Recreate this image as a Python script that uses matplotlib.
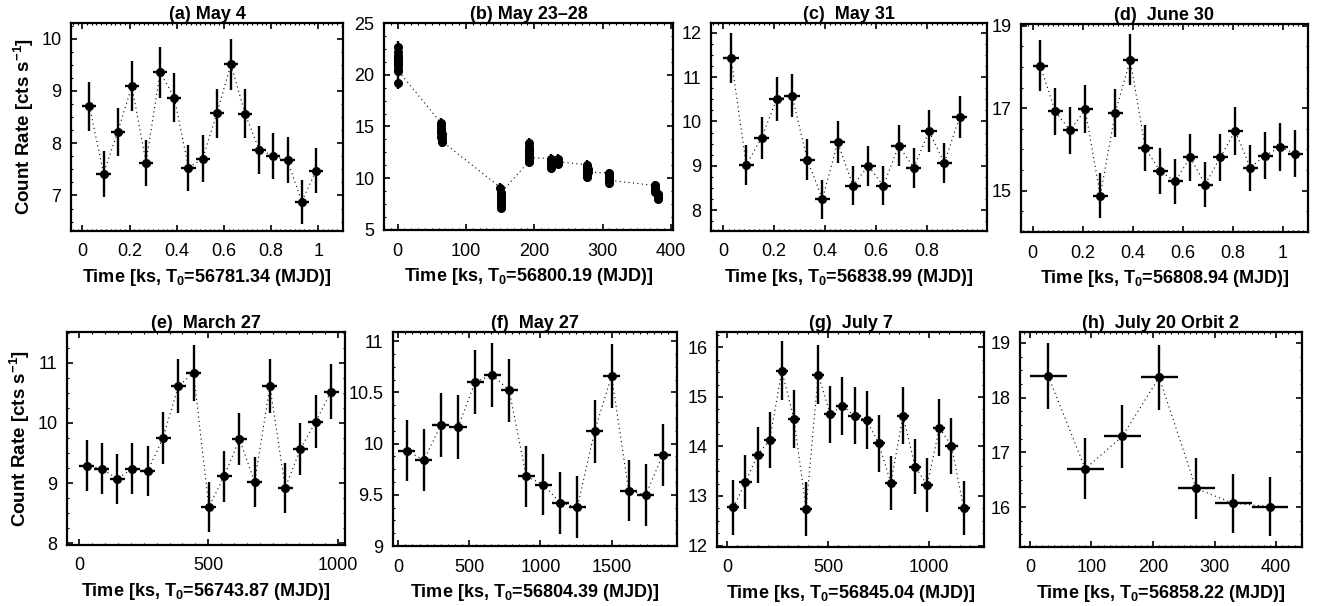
import numpy as np
import matplotlib
matplotlib.use('Agg')
import matplotlib.pyplot as plt
from matplotlib.ticker import FuncFormatter, AutoMinorLocator

plt.rcParams['font.family'] = ['Liberation Sans', 'DejaVu Sans']
plt.rcParams['mathtext.default'] = 'regular'

# ---------------- data (time in ks, count rate in cts/s) ----------------
# (a) May 4
a_t = [0.03, 0.09, 0.15, 0.21, 0.27, 0.33, 0.39, 0.45, 0.51, 0.57, 0.63, 0.69, 0.75, 0.81, 0.87, 0.93, 0.99]
a_r = [8.71, 7.42, 8.22, 9.09, 7.63, 9.36, 8.87, 7.53, 7.70, 8.57, 9.51, 8.56, 7.87, 7.76, 7.67, 6.88, 7.47]
a_e = [0.47, 0.44, 0.46, 0.48, 0.44, 0.49, 0.47, 0.44, 0.45, 0.47, 0.49, 0.47, 0.45, 0.44, 0.44, 0.42, 0.43]

# (b) May 23-28, one list per orbit
b_t = [[0.0, 0.06, 0.12, 0.18, 0.24, 0.30, 0.36, 0.42, 0.48, 0.54, 0.60, 0.66],
       [63.8, 63.86, 63.92, 63.98, 64.04, 64.10, 64.16, 64.22, 64.28, 64.34, 64.40, 64.46],
       [150.5, 150.56, 150.62, 150.68, 150.74, 150.80, 150.86, 150.92, 150.98, 151.04, 151.10, 151.16],
       [191.8, 191.86, 191.92, 191.98, 192.04, 192.10, 192.16, 192.22, 192.28, 192.34, 192.40, 192.46],
       [224.5, 224.56, 224.62, 224.68, 224.74, 224.80, 234.5, 234.56, 234.62, 234.68, 234.74, 234.80],
       [277.3, 277.36, 277.42, 277.48, 277.54, 277.60, 277.66, 277.72, 277.78, 277.84, 277.90, 277.96],
       [309.0, 309.06, 309.12, 309.18, 309.24, 309.30, 309.36, 309.42, 309.48, 309.54, 309.60, 309.66],
       [376.5, 376.56, 376.62, 376.68, 376.74, 376.80, 380.5, 380.56, 380.62, 380.68, 380.74, 380.80]]
b_r = [[22.7, 21.8, 22.2, 21.5, 21.0, 21.7, 20.8, 21.3, 20.5, 19.2, 20.9, 20.4],
       [15.3, 14.9, 14.6, 15.1, 14.4, 14.0, 14.7, 14.2, 13.8, 13.5, 14.3, 13.6],
       [9.1, 8.6, 8.2, 7.8, 7.4, 7.1, 7.6, 8.0, 7.3, 7.7, 8.4, 8.6],
       [11.6, 12.1, 12.6, 13.4, 13.0, 12.4, 12.8, 11.9, 12.2, 11.8, 12.5, 12.0],
       [11.9, 11.5, 11.2, 11.0, 11.4, 11.7, 11.6, 11.8, 11.5, 11.9, 11.4, 11.6],
       [11.3, 10.9, 10.6, 11.1, 10.4, 10.8, 10.2, 10.7, 10.5, 10.1, 10.9, 10.6],
       [10.5, 10.2, 9.9, 10.4, 9.7, 10.0, 9.5, 9.8, 10.1, 9.6, 9.9, 9.8],
       [9.3, 9.0, 8.8, 9.1, 8.7, 8.9, 8.5, 8.2, 8.0, 8.4, 8.1, 8.3]]
b_e = [0.6, 0.5, 0.4, 0.45, 0.45, 0.42, 0.42, 0.4]

# (c) May 31
c_t = [0.03, 0.09, 0.15, 0.21, 0.27, 0.33, 0.39, 0.45, 0.51, 0.57, 0.63, 0.69, 0.75, 0.81, 0.87, 0.93]
c_r = [11.43, 9.02, 9.63, 10.51, 10.58, 9.14, 8.25, 9.53, 8.55, 9.00, 8.55, 9.45, 8.96, 9.78, 9.06, 10.10]
c_e = [0.56, 0.46, 0.47, 0.49, 0.49, 0.46, 0.44, 0.47, 0.44, 0.45, 0.44, 0.46, 0.45, 0.47, 0.45, 0.48]

# (d) June 30
d_t = [0.03, 0.09, 0.15, 0.21, 0.27, 0.33, 0.39, 0.45, 0.51, 0.57, 0.63, 0.69, 0.75, 0.81, 0.87, 0.93, 0.99, 1.05]
d_r = [18.03, 16.92, 16.46, 16.97, 14.88, 16.89, 18.17, 16.03, 15.47, 15.23, 15.81, 15.15, 15.81, 16.45, 15.56, 15.85, 16.06, 15.90]
d_e = [0.62, 0.58, 0.58, 0.58, 0.55, 0.58, 0.62, 0.56, 0.56, 0.55, 0.57, 0.55, 0.57, 0.58, 0.56, 0.57, 0.57, 0.57]

# (e) March 27
e_t = [30, 89, 148, 207, 266, 325, 384, 443, 502, 561, 620, 679, 738, 797, 856, 915, 974]
e_r = [9.29, 9.24, 9.07, 9.24, 9.20, 9.75, 10.61, 10.83, 8.60, 9.11, 9.73, 9.02, 10.61, 8.92, 9.57, 10.02, 10.52]
e_e = [0.42, 0.42, 0.42, 0.42, 0.42, 0.43, 0.45, 0.46, 0.41, 0.42, 0.43, 0.42, 0.45, 0.41, 0.43, 0.44, 0.45]

# (f) May 27
f_t = [60, 180, 300, 420, 540, 660, 780, 900, 1020, 1140, 1260, 1380, 1500, 1620, 1740, 1860]
f_r = [9.93, 9.84, 10.18, 10.16, 10.60, 10.67, 10.52, 9.68, 9.60, 9.42, 9.38, 10.12, 10.66, 9.54, 9.50, 9.89]
f_e = [0.30, 0.30, 0.31, 0.31, 0.31, 0.31, 0.31, 0.30, 0.30, 0.30, 0.30, 0.31, 0.31, 0.30, 0.30, 0.30]

# (g) July 7
g_t = [30, 90, 150, 210, 270, 330, 390, 450, 510, 570, 630, 690, 750, 810, 870, 930, 990, 1050, 1110, 1170]
g_r = [12.77, 13.28, 13.83, 14.13, 15.53, 14.55, 12.74, 15.45, 14.65, 14.82, 14.62, 14.53, 14.06, 13.26, 14.62, 13.59, 13.22, 14.38, 14.01, 12.76]
g_e = [0.56, 0.55, 0.56, 0.57, 0.60, 0.58, 0.55, 0.59, 0.58, 0.58, 0.58, 0.58, 0.57, 0.55, 0.58, 0.56, 0.55, 0.57, 0.57, 0.55]

# (h) July 20 Orbit 2
h_t = [30, 90, 150, 210, 270, 330, 390]
h_r = [18.39, 16.70, 17.29, 18.37, 16.34, 16.07, 16.01]
h_e = [0.60, 0.56, 0.57, 0.59, 0.55, 0.54, 0.54]

titles = ['(a) May 4', '(b) May 23\u201328', '(c)  May 31', '(d)  June 30',
          '(e)  March 27', '(f)  May 27', '(g)  July 7', '(h)  July 20 Orbit 2']
t0s = ['56781.34', '56800.19', '56838.99', '56808.94',
       '56743.87', '56804.39', '56845.04', '56858.22']

# ---------------- figure ----------------
W, H = 1317, 606
fig = plt.figure(figsize=(W / 100, H / 100), dpi=100)

def box(x0, x1, y0, y1):
    return [x0 / W, 1 - y1 / H, (x1 - x0) / W, (y1 - y0) / H]

boxes = [box(71, 343, 23, 231), box(384, 673, 23, 230), box(711, 987, 23, 231), box(1021, 1308, 24, 232),
         box(67, 345, 332, 545), box(393, 677, 332, 546), box(717, 984, 332, 547), box(1020, 1302, 332, 547)]

def draw(ax, t, r, dt, dr):
    ax.plot(t, r, color='k', lw=0.8, ls=(0, (1, 3)), zorder=1)
    ax.errorbar(t, r, xerr=dt, yerr=dr, fmt='o', color='k', ms=5.5,
                elinewidth=1.7, capsize=0, zorder=2)

axes = [fig.add_axes(b) for b in boxes]

draw(axes[0], a_t, a_r, 0.03, a_e)
bt = [t for cl in b_t for t in cl]
br = [r for cl in b_r for r in cl]
be = [e for cl, e in zip(b_r, b_e) for _ in cl]
draw(axes[1], bt, br, 0.03, be)
draw(axes[2], c_t, c_r, 0.03, c_e)
draw(axes[3], d_t, d_r, 0.03, d_e)
draw(axes[4], e_t, e_r, 29, e_e)
draw(axes[5], f_t, f_r, 60, f_e)
draw(axes[6], g_t, g_r, 30, g_e)
draw(axes[7], h_t, h_r, 30, h_e)

xlims = [(-0.048, 1.105), (-20, 403), (-0.049, 1.038), (-0.047, 1.101),
         (-46, 1028), (-37, 1960), (-51, 1271), (-16, 442)]
ylims = [(6.32, 10.3), (5, 25), (7.53, 12.22), (14.0, 19.04),
         (7.97, 11.51), (9.0, 11.09), (11.97, 16.31), (15.27, 19.2)]
xticks = [[0, 0.2, 0.4, 0.6, 0.8, 1], [0, 100, 200, 300, 400], [0, 0.2, 0.4, 0.6, 0.8],
          [0, 0.2, 0.4, 0.6, 0.8, 1], [0, 500, 1000], [0, 500, 1000, 1500],
          [0, 500, 1000], [0, 100, 200, 300, 400]]
yticks = [[7, 8, 9, 10], [5, 10, 15, 20, 25], [8, 9, 10, 11, 12], [15, 17, 19],
          [8, 9, 10, 11], [9, 9.5, 10, 10.5, 11], [12, 13, 14, 15, 16], [16, 17, 18, 19]]

fmt = FuncFormatter(lambda v, p: '%g' % v)
for i, ax in enumerate(axes):
    ax.set_xlim(*xlims[i])
    ax.set_ylim(*ylims[i])
    ax.set_xticks(xticks[i])
    ax.set_yticks(yticks[i])
    ax.xaxis.set_major_formatter(fmt)
    ax.yaxis.set_major_formatter(fmt)
    ax.xaxis.set_minor_locator(AutoMinorLocator(10))
    ax.yaxis.set_minor_locator(AutoMinorLocator(4))
    ax.tick_params(which='major', direction='in', top=True, right=True,
                   length=4, width=1.2, labelsize=13, pad=7)
    ax.tick_params(which='minor', direction='in', top=True, right=True,
                   length=1.5, width=0.8)
    ax.tick_params(axis='x', which='major', pad=9)
    for s in ax.spines.values():
        s.set_linewidth(1.6)
    ax.set_title(titles[i], fontsize=13, fontweight='bold', pad=3)
    ax.set_xlabel('Time [ks, T$_{0}$=' + t0s[i] + ' (MJD)]', fontsize=13,
                  fontweight='bold', labelpad=5)

for ax in (axes[0], axes[4]):
    ax.set_ylabel('Count Rate [cts s$^{-1}$]', fontsize=13.5, fontweight='bold', labelpad=4)

fig.savefig('out.png', dpi=100)
